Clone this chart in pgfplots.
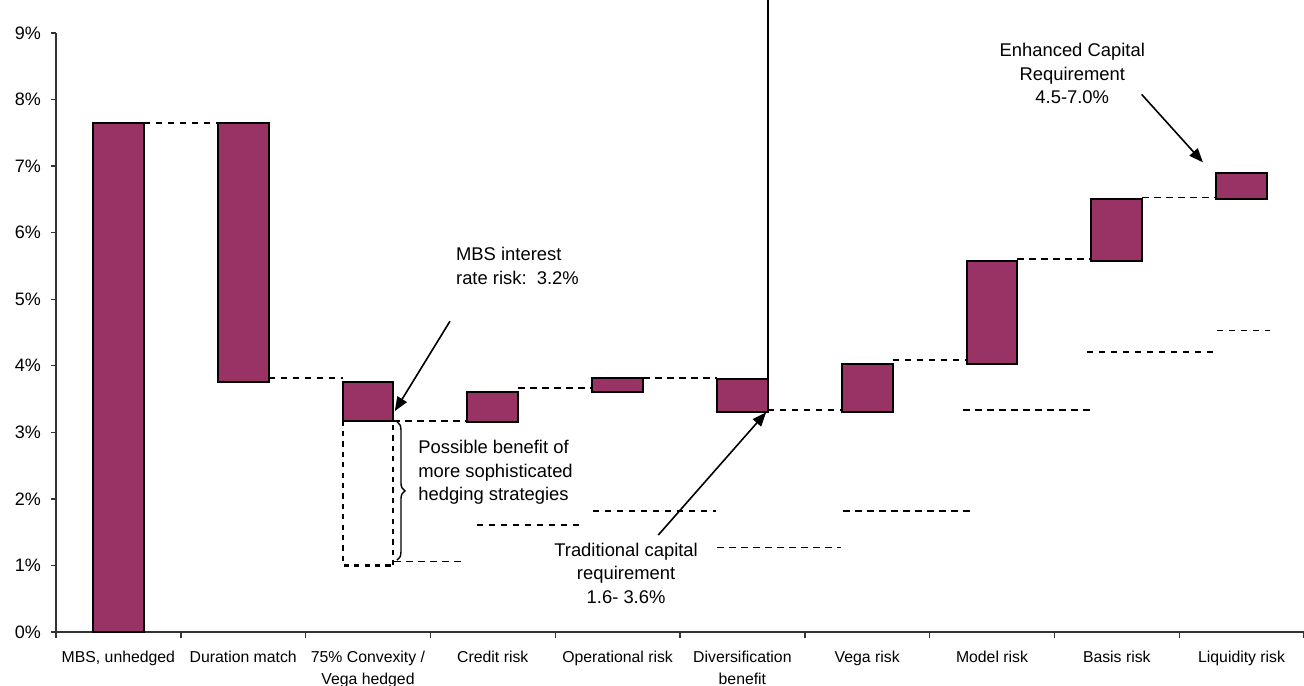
\documentclass[border=0pt]{standalone}
\usepackage{pgfplots}
\usepackage{pgfplotstable}
\pgfplotsset{compat=1.18}
\usepackage{fontspec}
\setmainfont{Liberation Sans}
\usetikzlibrary{arrows.meta,decorations.pathreplacing}
\definecolor{plum}{RGB}{153,51,102}

\pgfplotstableread{
x base height
0 0     7.65
1 3.76  3.89
2 3.175 0.585
3 3.16  0.45
4 3.60  0.21
5 3.31  0.49
6 3.31  0.72
7 4.03  1.54
8 5.57  0.94
9 6.51  0.39
}\bars

\pgfplotsset{
  common/.style={
    at={(0,0)}, anchor=south west,
    scale only axis, width=624pt, height=299.5pt,
    xmin=-0.5, xmax=9.5, ymin=0, ymax=9, clip=false,
  },
}
\tikzset{
  conn/.style={line width=0.9pt, dash pattern=on 3.25pt off 2.75pt, black},
  ann/.style={font=\fontsize{9.2}{11.75}\selectfont, inner sep=0pt},
}

\begin{document}
\begin{tikzpicture}
\begin{axis}[
  common,
  axis x line=bottom, axis y line=left,
  axis line style={-, line width=0.7pt, black!80},
  ybar stacked, bar width=0.408,
  tick align=outside,
  major tick length=2.5pt, minor tick length=2.8pt,
  tick style={line width=0.7pt, black!80},
  xtick={0,...,9},
  major x tick style={draw=none},
  minor xtick={-0.5,0.5,...,9.5},
  xticklabels={{MBS, unhedged},{Duration match},{75\% Convexity /\\Vega hedged},{Credit risk},{Operational risk},{Diversification\\benefit},{Vega risk},{Model risk},{Basis risk},{Liquidity risk}},
  xticklabel style={font=\fontsize{7.9}{10.8}\selectfont, align=center, yshift=-3.5pt},
  ytick={0,...,9},
  yticklabels={0\%,1\%,2\%,3\%,4\%,5\%,6\%,7\%,8\%,9\%},
  yticklabel style={font=\fontsize{9}{10.8}\selectfont, xshift=-1.5pt},
]
\addplot[draw=none, fill=none] table[x=x, y=base]{\bars};
\addplot[draw=black, line width=1pt, fill=plum] table[x=x, y=height]{\bars};
\end{axis}

\begin{axis}[common, hide axis]
% connectors between bars
\addplot[conn] coordinates {(0.204,7.65) (0.796,7.65)};
\addplot[conn] coordinates {(1.204,3.82) (1.80,3.82)};
\addplot[conn] coordinates {(2.204,3.17) (2.80,3.17)};
\addplot[conn] coordinates {(3.204,3.67) (3.80,3.67)};
\addplot[conn] coordinates {(4.204,3.82) (4.80,3.82)};
\addplot[conn] coordinates {(5.204,3.33) (5.80,3.33)};
\addplot[conn] coordinates {(6.204,4.09) (6.80,4.09)};
\addplot[conn] coordinates {(7.204,5.61) (7.80,5.61)};
\addplot[conn] coordinates {(8.204,6.53) (8.80,6.53)};
% traditional requirement levels
\addplot[conn] coordinates {(2.21,1.06) (2.75,1.06)};
\addplot[conn] coordinates {(2.87,1.61) (3.70,1.61)};
\addplot[conn] coordinates {(3.80,1.82) (4.79,1.82)};
\addplot[conn] coordinates {(4.80,1.27) (5.79,1.27)};
\addplot[conn] coordinates {(5.81,1.82) (6.82,1.82)};
\addplot[conn] coordinates {(6.77,3.33) (7.80,3.33)};
\addplot[conn] coordinates {(7.76,4.21) (8.81,4.21)};
\addplot[conn] coordinates {(8.80,4.53) (9.23,4.53)};
% dotted box
\addplot[line width=1.4pt, dash pattern=on 2.6pt off 2.6pt] coordinates {(1.80,3.175) (1.80,1.0) (2.20,1.0)};
\addplot[line width=0.9pt, dash pattern=on 2.6pt off 2.6pt] coordinates {(2.20,1.0) (2.20,3.175)};
% vertical line
\addplot[line width=0.7pt] coordinates {(5.205,3.80) (5.205,9.5)};
% arrows
\addplot[line width=0.8pt, -{Triangle[length=7pt,width=5.5pt]}] coordinates {(2.657,4.67) (2.215,3.32)};
\addplot[line width=0.8pt, -{Triangle[length=7pt,width=5.5pt]}] coordinates {(4.326,1.457) (5.19,3.30)};
\addplot[line width=0.8pt, -{Triangle[length=7pt,width=5.5pt]}] coordinates {(8.199,8.078) (8.69,7.057)};
% brace
\draw[line width=0.7pt, decorate, decoration={brace, amplitude=4pt}] (axis cs:2.232,3.16) -- (axis cs:2.232,1.08);
% annotations
\node[ann, anchor=west, align=left] at (axis cs:2.703,5.50) {MBS interest\\rate risk:\ \ 3.2\%};
\node[ann, anchor=west, align=left] at (axis cs:2.40,2.40) {Possible benefit of\\more sophisticated\\hedging strategies};
\node[ann, align=center] at (axis cs:4.068,0.886) {Traditional capital\\requirement\\1.6- 3.6\%};
\node[ann, align=center] at (axis cs:7.643,8.39) {Enhanced Capital\\Requirement\\4.5-7.0\%};
\end{axis}
\pgfresetboundingbox
\path[use as bounding box] (-28pt,-26.5pt) rectangle (624pt,316pt);
\end{tikzpicture}
\end{document}
